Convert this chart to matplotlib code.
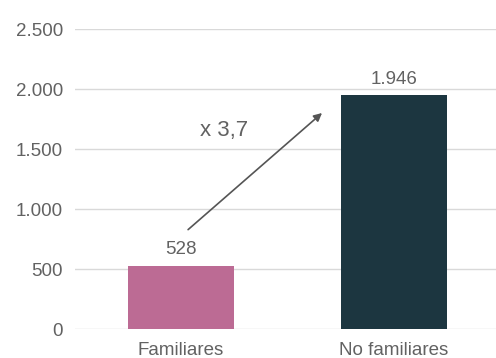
import matplotlib
matplotlib.use('Agg')
import matplotlib.pyplot as plt

categories = ['Familiares', 'No familiares']
values = [528, 1946]
value_labels = ['528', '1.946']
bar_colors = ['#bc6b94', '#1c3640']
y_ticks = [0, 500, 1000, 1500, 2000, 2500]
y_tick_labels = ['0', '500', '1.000', '1.500', '2.000', '2.500']
ratio_label = 'x 3,7'

plt.rcParams['font.family'] = ['Liberation Sans', 'DejaVu Sans']
text_color = '#626262'

fig = plt.figure(figsize=(4.96, 3.58), dpi=100)
ax = fig.add_axes([75 / 496, 29 / 358, 421 / 496, 300 / 358])

x = range(len(categories))
ax.bar(x, values, width=0.5, color=bar_colors, zorder=2)

for xi, v, lab in zip(x, values, value_labels):
    ax.text(xi, v + 60, lab, ha='center', va='bottom', fontsize=13.5, color=text_color)

ax.set_xlim(-0.498, 1.479)
ax.set_ylim(0, 2500)
ax.set_yticks(y_ticks)
ax.set_yticklabels(y_tick_labels)
ax.set_xticks(list(x))
ax.set_xticklabels(categories)
ax.tick_params(axis='both', length=0, labelsize=13.5, labelcolor=text_color)
ax.tick_params(axis='y', pad=8.5)
ax.tick_params(axis='x', pad=9.5)
ax.yaxis.grid(True, color='#d9d9d9', linewidth=1, zorder=0)
ax.set_axisbelow(True)
for s in ax.spines.values():
    s.set_visible(False)

# growth arrow between the bars
ax.annotate('', xy=(0.662, 1800), xytext=(0.033, 828),
            arrowprops=dict(arrowstyle='-|>', color='#555555', lw=1.2,
                            mutation_scale=12, shrinkA=0, shrinkB=0))
ax.text(0.2, 1650, ratio_label, ha='center', va='center', fontsize=16, color=text_color)

fig.savefig('out.png', dpi=100)
